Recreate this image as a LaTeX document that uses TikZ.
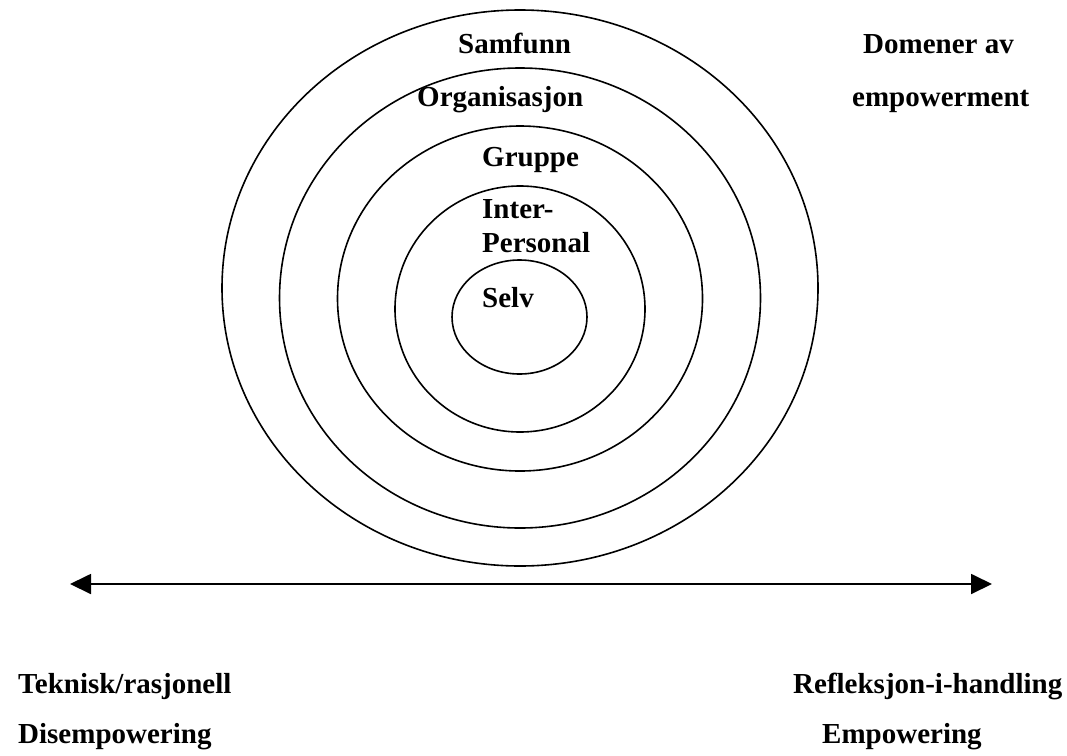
\documentclass[tikz,border=0pt]{standalone}
\usepackage{fontspec}
\setmainfont{Liberation Serif}
\usetikzlibrary{shapes.geometric,arrows.meta}
\tikzset{
  ring/.style={draw, ellipse, line width=1.6pt, inner sep=0pt},
  lbl/.style={anchor=base west, inner sep=0pt, font=\bfseries\fontsize{29}{34}\selectfont},
  axis/.style={line width=1.8pt, {Triangle[length=21pt,width=20pt]}-{Triangle[length=21pt,width=20pt]}}
}
\begin{document}
\begin{tikzpicture}[x=1pt,y=-1pt]
\useasboundingbox (0,0) rectangle (1067,755);
\node[ring, minimum width=596pt, minimum height=556pt] (outer) at (520,288) {};
\node[ring, minimum width=481pt, minimum height=460pt] (org) at (520,298) {};
\node[ring, minimum width=365pt, minimum height=345pt] (grp) at (520,298.5) {};
\node[ring, minimum width=250pt, minimum height=246pt] (ip) at (520,309) {};
\node[ring, minimum width=135pt, minimum height=114pt] (self) at (519.5,317) {};
\node[lbl] (samfunn) at (458,53) {Samfunn};
\node[lbl] (organ) at (417,106) {Organisasjon};
\node[lbl] (gruppe) at (482,166) {Gruppe};
\node[lbl] (inter) at (482,218) {Inter-};
\node[lbl] (personal) at (482,252) {Personal};
\node[lbl] (selv) at (482,307) {Selv};
\node[lbl] (domener) at (863,53) {Domener av};
\node[lbl] (empow) at (852,106) {empowerment};
\node[lbl] (teknisk) at (18,693) {Teknisk/rasjonell};
\node[lbl] (disemp) at (18,743) {Disempowering};
\node[lbl] (refl) at (793,693) {Refleksjon-i-handling};
\node[lbl] (emp) at (822,743) {Empowering};
\coordinate (aL) at (70,584);
\coordinate (aR) at (992,584);
\draw[axis] (aL) -- (aR);
\end{tikzpicture}
\end{document}
